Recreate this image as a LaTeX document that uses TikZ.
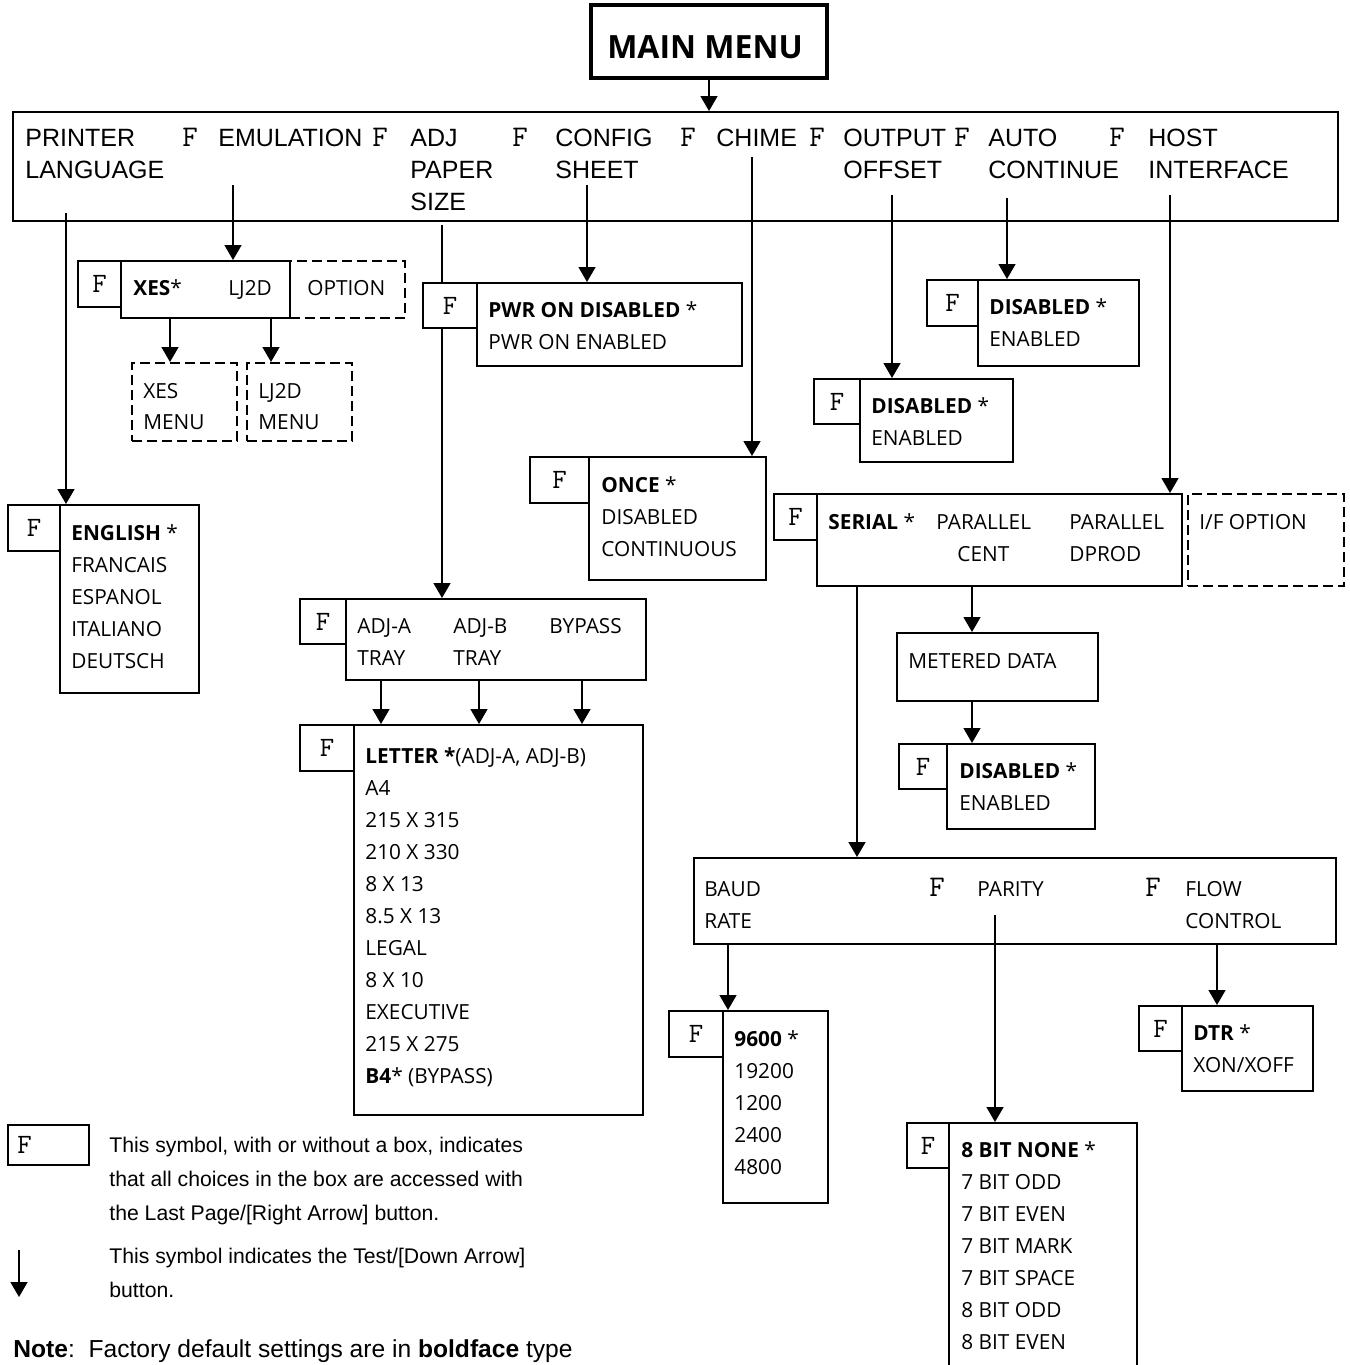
\documentclass[tikz,border=0pt]{standalone}
\usepackage{fontspec}
\setmainfont{Open Sans}
\newfontfamily\rowfont{Liberation Sans}
\usetikzlibrary{arrows.meta,fit,backgrounds}
\begin{document}
\begin{tikzpicture}[x=0.5pt,y=-0.5pt,
  box/.style={draw,line width=1pt,inner sep=0pt},
  fbox/.style={draw,line width=1pt,inner sep=0pt,fill=white},
  dbox/.style={draw,line width=1pt,inner sep=0pt,dash pattern=on 5pt off 2.5pt},
  lbl/.style={anchor=base west,inner sep=0pt,font=\fontsize{10.4}{12}\selectfont},
  rlbl/.style={anchor=base west,inner sep=0pt,font=\rowfont\fontsize{12.5}{14}\selectfont},
  fch/.style={inner sep=0pt,font=\ttfamily\fontsize{14}{16}\selectfont},
  rf/.style={anchor=base west,inner sep=0pt,font=\ttfamily\fontsize{15}{16}\selectfont},
  leg/.style={anchor=base west,inner sep=0pt,font=\rowfont\fontsize{10.6}{12}\selectfont},
  arr/.style={line width=0.75pt,-{Triangle[length=7.5pt,width=8.5pt]}},
]
\useasboundingbox (0,0) rectangle (1349,1365);
\clip (0,0) rectangle (1349,1365);

% main menu
\node[box,line width=2pt,fit={(591,5)(827,78)}] (mm) {};
\node[inner sep=0pt,font=\bfseries\fontsize{16}{18}\selectfont] (mmt) at (705,47) {MAIN MENU};
\node[box,fit={(13,112)(1338,221)}] (top) {};

% top row
\node[rlbl] (t1a) at (25,146) {PRINTER};
\node[rlbl] (t1b) at (25,178) {LANGUAGE};
\node[rf] (f1) at (182,146) {F};
\node[rlbl] (t2) at (218,146) {EMULATION};
\node[rf] (f2) at (372,146) {F};
\node[rlbl] (t3a) at (410,146) {ADJ};
\node[rlbl] (t3b) at (410,178) {PAPER};
\node[rlbl] (t3c) at (410,210) {SIZE};
\node[rf] (f3) at (512,146) {F};
\node[rlbl] (t4a) at (555,146) {CONFIG};
\node[rlbl] (t4b) at (555,178) {SHEET};
\node[rf] (f4) at (680,146) {F};
\node[rlbl] (t5) at (716,146) {CHIME};
\node[rf] (f5) at (809,146) {F};
\node[rlbl] (t6a) at (843,146) {OUTPUT};
\node[rlbl] (t6b) at (843,178) {OFFSET};
\node[rf] (f6) at (954,146) {F};
\node[rlbl] (t7a) at (988,146) {AUTO};
\node[rlbl] (t7b) at (988,178) {CONTINUE};
\node[rf] (f7) at (1109,146) {F};
\node[rlbl] (t8a) at (1148,146) {HOST};
\node[rlbl] (t8b) at (1148,178) {INTERFACE};

\coordinate (sPL) at (66,213);
\coordinate (sEM) at (233,185);
\coordinate (sADJ) at (442,225);
\coordinate (sCF) at (587,185);
\coordinate (sCH) at (752,157);
\coordinate (sOO) at (892,195);
\coordinate (sAC) at (1007,198);
\coordinate (sHI) at (1170,195);

% emulation
\node[fbox,fit={(78,261)(121,307)}] (emF) {};
\node[fch] (emFt) at (emF.center) {F};
\node[box,fit={(121,261)(290,318)}] (em) {};
\node[dbox,fit={(290,261)(405,318)}] (emO) {};
\node[lbl] (em1) at (133,295) {\textbf{XES}*};
\node[lbl] (em2) at (228,295) {LJ2D};
\node[lbl] (em3) at (307,295) {OPTION};
\node[dbox,fit={(132,363)(237,441)}] (xm) {};
\node[dbox,fit={(247,363)(352,441)}] (lm) {};
\node[lbl] (xm1) at (143,398) {XES};
\node[lbl] (xm2) at (143,429) {MENU};
\node[lbl] (lm1) at (258,398) {LJ2D};
\node[lbl] (lm2) at (258,429) {MENU};
\coordinate (aX) at (170,318);
\coordinate (aL) at (271,318);

% language
\node[fbox,fit={(8,505)(60,551)}] (enF) {};
\node[fch] (enFt) at (enF.center) {F};
\node[box,fit={(60,505)(199,693)}] (en) {};
\node[lbl] (en1) at (71,540) {\textbf{ENGLISH} *};
\node[lbl] (en2) at (71,572) {FRANCAIS};
\node[lbl] (en3) at (71,604) {ESPANOL};
\node[lbl] (en4) at (71,636) {ITALIANO};
\node[lbl] (en5) at (71,668) {DEUTSCH};

% config sheet
\node[fbox,fit={(423,283)(477,328)}] (pwF) {};
\node[fch] (pwFt) at (pwF.center) {F};
\node[box,fit={(477,283)(742,366)}] (pw) {};
\node[lbl] (pw1) at (488,317) {\textbf{PWR ON DISABLED} *};
\node[lbl] (pw2) at (488,349) {PWR ON ENABLED};

% chime
\node[fbox,fit={(530,457)(589,503)}] (onF) {};
\node[fch] (onFt) at (onF.center) {F};
\node[box,fit={(589,457)(766,580)}] (on) {};
\node[lbl] (on1) at (601,492) {\textbf{ONCE} *};
\node[lbl] (on2) at (601,524) {DISABLED};
\node[lbl] (on3) at (601,556) {CONTINUOUS};

% auto continue
\node[fbox,fit={(927,280)(978,326)}] (acF) {};
\node[fch] (acFt) at (acF.center) {F};
\node[box,fit={(978,280)(1139,366)}] (ac) {};
\node[lbl] (ac1) at (989,314) {\textbf{DISABLED} *};
\node[lbl] (ac2) at (989,346) {ENABLED};

% output offset
\node[fbox,fit={(814,379)(860,424)}] (ooF) {};
\node[fch] (ooFt) at (ooF.center) {F};
\node[box,fit={(860,379)(1013,462)}] (oo) {};
\node[lbl] (oo1) at (871,413) {\textbf{DISABLED} *};
\node[lbl] (oo2) at (871,445) {ENABLED};

% host interface
\node[fbox,fit={(774,494)(817,540)}] (seF) {};
\node[fch] (seFt) at (seF.center) {F};
\node[box,fit={(817,494)(1182,586)}] (se) {};
\node[dbox,fit={(1188,494)(1344,586)}] (ifo) {};
\node[lbl] (se1) at (828,529) {\textbf{SERIAL} *};
\node[lbl] (se2) at (936,529) {PARALLEL};
\node[lbl] (se3) at (957,561) {CENT};
\node[lbl] (se4) at (1069,529) {PARALLEL};
\node[lbl] (se5) at (1069,561) {DPROD};
\node[lbl] (ifo1) at (1199,529) {I/F OPTION};
\coordinate (aBd) at (857,586);
\coordinate (aMd) at (972,586);

% metered data
\node[box,fit={(897,633)(1098,701)}] (md) {};
\node[lbl] (md1) at (908,668) {METERED DATA};
\coordinate (aMd2) at (972,701);
\node[fbox,fit={(899,744)(947,789)}] (mdF) {};
\node[fch] (mdFt) at (mdF.center) {F};
\node[box,fit={(947,744)(1095,829)}] (mdd) {};
\node[lbl] (mdd1) at (959,778) {\textbf{DISABLED} *};
\node[lbl] (mdd2) at (959,810) {ENABLED};

% tray
\node[fbox,fit={(300,599)(346,644)}] (trF) {};
\node[fch] (trFt) at (trF.center) {F};
\node[box,fit={(346,599)(646,680)}] (tr) {};
\node[lbl] (tr1) at (357,633) {ADJ-A};
\node[lbl] (tr2) at (357,665) {TRAY};
\node[lbl] (tr3) at (453,633) {ADJ-B};
\node[lbl] (tr4) at (453,665) {TRAY};
\node[lbl] (tr5) at (549,633) {BYPASS};
\coordinate (aT1) at (381,680);
\coordinate (aT2) at (479,680);
\coordinate (aT3) at (582,680);

% paper sizes
\node[fbox,fit={(300,725)(354,771)}] (leF) {};
\node[fch] (leFt) at (leF.center) {F};
\node[box,fit={(354,725)(643,1115)}] (le) {};
\node[lbl] (le1) at (365,763) {\textbf{LETTER *}(ADJ-A, ADJ-B)};
\node[lbl] (le2) at (365,795) {A4};
\node[lbl] (le3) at (365,827) {215 X 315};
\node[lbl] (le4) at (365,859) {210 X 330};
\node[lbl] (le5) at (365,891) {8 X 13};
\node[lbl] (le6) at (365,923) {8.5 X 13};
\node[lbl] (le7) at (365,955) {LEGAL};
\node[lbl] (le8) at (365,987) {8 X 10};
\node[lbl] (le9) at (365,1019) {EXECUTIVE};
\node[lbl] (le10) at (365,1051) {215 X 275};
\node[lbl] (le11) at (365,1083) {\textbf{B4}* (BYPASS)};

% serial sub menu
\node[box,fit={(694,858)(1336,944)}] (bd) {};
\node[lbl] (bd1) at (704,896) {BAUD};
\node[lbl] (bd2) at (704,928) {RATE};
\node[rf] (bdf1) at (929,896) {F};
\node[lbl] (bd3) at (977,896) {PARITY};
\node[rf] (bdf2) at (1145,896) {F};
\node[lbl] (bd4) at (1185,896) {FLOW};
\node[lbl] (bd5) at (1185,928) {CONTROL};
\coordinate (aB1) at (728,944);
\coordinate (aB2) at (995,915);
\coordinate (aB3) at (1217,944);

\node[fbox,fit={(669,1011)(723,1057)}] (brF) {};
\node[fch] (brFt) at (brF.center) {F};
\node[box,fit={(723,1011)(828,1203)}] (br) {};
\node[lbl] (br1) at (734,1046) {\textbf{9600} *};
\node[lbl] (br2) at (734,1078) {19200};
\node[lbl] (br3) at (734,1110) {1200};
\node[lbl] (br4) at (734,1142) {2400};
\node[lbl] (br5) at (734,1174) {4800};

\node[fbox,fit={(1139,1006)(1182,1051)}] (fcF) {};
\node[fch] (fcFt) at (fcF.center) {F};
\node[box,fit={(1182,1006)(1313,1091)}] (fc) {};
\node[lbl] (fc1) at (1193,1040) {\textbf{DTR} *};
\node[lbl] (fc2) at (1193,1072) {XON/XOFF};

\node[fbox,fit={(907,1123)(949,1168)}] (paF) {};
\node[fch] (paFt) at (paF.center) {F};
\node[box,fit={(949,1123)(1137,1420)}] (pa) {};
\node[lbl] (pa1) at (961,1157) {\textbf{8 BIT NONE} *};
\node[lbl] (pa2) at (961,1189) {7 BIT ODD};
\node[lbl] (pa3) at (961,1221) {7 BIT EVEN};
\node[lbl] (pa4) at (961,1253) {7 BIT MARK};
\node[lbl] (pa5) at (961,1285) {7 BIT SPACE};
\node[lbl] (pa6) at (961,1317) {8 BIT ODD};
\node[lbl] (pa7) at (961,1349) {8 BIT EVEN};

% legend
\node[box,fit={(8,1125)(89,1165)}] (lgF) {};
\node[fch,anchor=west] (lgFt) at (17,1145) {F};
\node[leg] (lg1) at (109,1152) {This symbol, with or without a box, indicates};
\node[leg] (lg2) at (109,1186) {that all choices in the box are accessed with};
\node[leg] (lg3) at (109,1220) {the Last Page/[Right Arrow] button.};
\node[leg] (lg4) at (109,1263) {This symbol indicates the Test/[Down Arrow]};
\node[leg] (lg5) at (109,1297) {button.};
\coordinate (la) at (19,1250);
\coordinate (lb) at (19,1297);
\node[anchor=base west,inner sep=0pt,font=\rowfont\fontsize{12.3}{14}\selectfont] (note) at (13,1357) {\textbf{Note}:\ \ Factory default settings are in \textbf{boldface} type};

\begin{scope}[on background layer]
\draw[arr] (mm.south) -- (mm.south |- top.north);
\draw[arr] (sPL) -- (sPL |- en.north);
\draw[arr] (sEM) -- (sEM |- em.north);
\draw[arr] (sADJ) -- (sADJ |- tr.north);
\draw[arr] (sCF) -- (sCF |- pw.north);
\draw[arr] (sCH) -- (sCH |- on.north);
\draw[arr] (sOO) -- (sOO |- oo.north);
\draw[arr] (sAC) -- (sAC |- ac.north);
\draw[arr] (sHI) -- (sHI |- se.north);
\draw[arr] (aX) -- (aX |- xm.north);
\draw[arr] (aL) -- (aL |- lm.north);
\draw[arr] (aBd) -- (aBd |- bd.north);
\draw[arr] (aMd) -- (aMd |- md.north);
\draw[arr] (aMd2) -- (aMd2 |- mdd.north);
\draw[arr] (aT1) -- (aT1 |- le.north);
\draw[arr] (aT2) -- (aT2 |- le.north);
\draw[arr] (aT3) -- (aT3 |- le.north);
\draw[arr] (aB1) -- (aB1 |- br.north);
\draw[arr] (aB2) -- (aB2 |- pa.north);
\draw[arr] (aB3) -- (aB3 |- fc.north);
\draw[arr] (la) -- (lb);
\end{scope}
\end{tikzpicture}
\end{document}
